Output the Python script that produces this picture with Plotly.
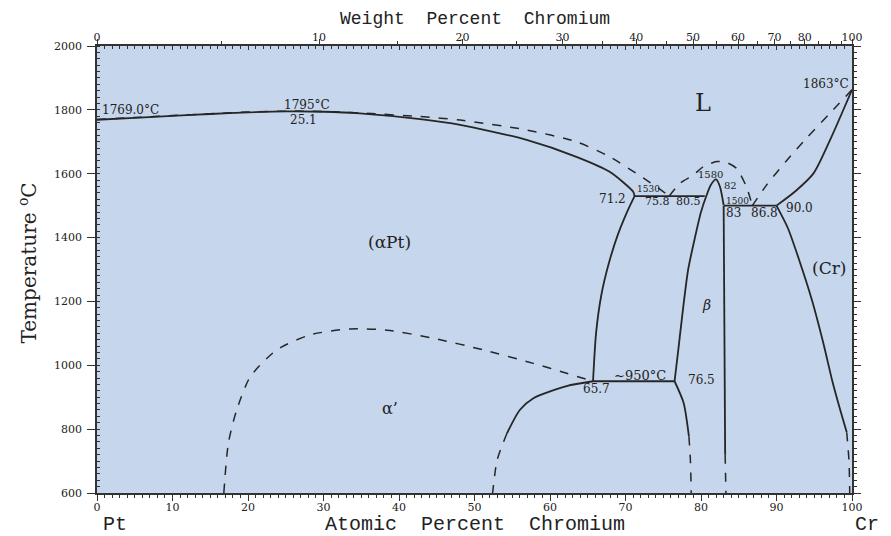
import plotly.graph_objects as go

# ---------------- data (atomic % Cr, temperature °C) ----------------
# Pt-side solidus (solid) and liquidus (dashed)
sol_pt_x = [0, 5, 10, 15, 20, 25.1, 30, 34.8, 42.8, 48.1, 56.9, 63.5, 67.9, 71.0, 71.2]
sol_pt_t = [1769, 1775, 1781, 1787, 1792, 1795, 1794, 1789, 1771, 1753, 1706, 1653, 1606, 1544, 1530]
liq_pt_x = [0, 5, 10, 15, 20, 25.1, 30, 35, 42.8, 48.1, 56.9, 63.5, 67.9, 72.4, 75.0, 75.8]
liq_pt_t = [1770, 1776, 1782, 1788, 1793, 1796, 1795, 1790, 1779, 1768, 1737, 1700, 1653, 1586, 1544, 1530]

# (alphaPt) solvus
apt_solvus_x = [65.7, 66.1, 66.8, 67.8, 69.0, 70.2, 71.2]
apt_solvus_t = [950, 1100, 1220, 1320, 1410, 1480, 1530]

# beta phase
beta_up_x = [76.5, 77.0, 77.6, 78.3, 79.2, 80.0, 80.7, 81.3, 82.0, 82.5, 83.0]
beta_up_t = [950, 1050, 1173, 1300, 1400, 1480, 1530, 1565, 1582, 1560, 1502]
beta_low_x = [76.5, 77.7, 78.4]
beta_low_t = [950, 882, 777]
beta_low_dash_x = [78.4, 78.6, 78.7]
beta_low_dash_t = [777, 700, 600]
beta_right_x = [83.0, 83.1, 83.2]
beta_right_t = [1500, 1100, 720]
beta_right_dash_x = [83.2, 83.3]
beta_right_dash_t = [720, 600]

# invariant lines
eut1_x = [71.2, 80.5]
eut1_t = [1530, 1530]
eut2_x = [83.0, 90.0]
eut2_t = [1500, 1500]
perit_x = [65.7, 76.5]
perit_t = [950, 950]

# (Cr) side
cr_sol_x = [90.0, 92.5, 94.9, 97.1, 100]
cr_sol_t = [1500, 1545, 1601, 1706, 1863]
cr_solvus_x = [90.0, 91.5, 93.0, 94.7, 96.2, 97.4, 98.5, 99.3]
cr_solvus_t = [1500, 1430, 1330, 1204, 1070, 950, 855, 790]
cr_solvus_dash_x = [99.3, 99.6, 99.7]
cr_solvus_dash_t = [790, 700, 600]
cr_liq_x = [86.8, 88.7, 91.3, 94.0, 97.1, 100]
cr_liq_t = [1500, 1565, 1640, 1712, 1790, 1863]

# liquidus dome over beta
dome_x = [75.8, 77.2, 79.0, 80.3, 82.1, 83.4, 84.7, 86.0, 86.8]
dome_t = [1530, 1570, 1596, 1622, 1638, 1635, 1617, 1560, 1500]

# alpha' ordering dome
aprime_x = [16.8, 17.4, 18.5, 20.3, 23.8, 28.2, 33.5, 38.4, 44.5, 51.2, 57.8, 62.2, 65.7]
aprime_t = [600, 756, 860, 964, 1048, 1095, 1114, 1110, 1085, 1048, 1006, 975, 950]
aprime_low_x = [65.7, 62.2, 57.8, 56.0, 54.3]
aprime_low_t = [950, 935, 897, 860, 787]
aprime_low_dash_x = [54.3, 53.0, 52.4]
aprime_low_dash_t = [787, 703, 600]

# axis ticks
at_ticks = [0, 10, 20, 30, 40, 50, 60, 70, 80, 90, 100]
t_ticks = [600, 800, 1000, 1200, 1400, 1600, 1800, 2000]
wt_ticks = [0, 10, 20, 30, 40, 50, 60, 70, 80, 100]
wt_labels = ["0", "10", "20", "30", "40", "50", "60", "70", "80", "100"]
wt_minor = [5, 15, 25, 35, 45, 55, 65, 75, 85, 90, 95]
M_CR, M_PT = 52.00, 195.08

# labels: (text, x, T, size, style)
labels = [
    ("L", 80.3, 1822, 24, "normal"),
    ("(αPt)", 38.8, 1386, 17, "normal"),
    ("(Cr)", 97.0, 1305, 17, "normal"),
    ("β", 80.7, 1189, 14, "italic"),
    ("α’", 38.8, 866, 16, "normal"),
    ("~950°C", 71.9, 968, 13, "normal"),
    ("65.7", 66.2, 925, 12, "normal"),
    ("76.5", 80.0, 954, 12, "normal"),
    ("71.2", 68.3, 1521, 12, "normal"),
    ("1530", 73.0, 1551, 9, "normal"),
    ("75.8", 74.3, 1514, 11, "normal"),
    ("80.5", 78.4, 1514, 11, "normal"),
    ("1580", 81.3, 1598, 10, "normal"),
    ("82", 83.9, 1562, 10, "normal"),
    ("1500", 84.8, 1514, 9, "normal"),
    ("83", 84.3, 1478, 12, "normal"),
    ("86.8", 88.4, 1478, 12, "normal"),
    ("90.0", 93.0, 1492, 12, "normal"),
    ("1863°C", 96.6, 1882, 12, "normal"),
    ("1769.0°C", 4.4, 1801, 12, "normal"),
    ("1795°C", 27.8, 1815, 12, "normal"),
    ("25.1", 27.3, 1767, 12, "normal"),
]

# ---------------- figure ----------------
LINE = "#262626"
SERIF = "DejaVu Serif"
MONO = "Liberation Mono"

fig = go.Figure()


def add(xs, ts, dashed=False, spline=True):
    fig.add_trace(go.Scatter(
        x=xs, y=ts, mode="lines", showlegend=False, hoverinfo="skip",
        line=dict(color=LINE, width=1.5 if dashed else 1.8,
                  dash="dash" if dashed else "solid",
                  shape="spline" if spline else "linear", smoothing=0.7),
    ))


add(sol_pt_x, sol_pt_t)
add(liq_pt_x, liq_pt_t, dashed=True)
add(apt_solvus_x, apt_solvus_t)
add(beta_up_x, beta_up_t)
add(beta_low_x, beta_low_t)
add(beta_low_dash_x, beta_low_dash_t, dashed=True)
add(beta_right_x, beta_right_t, spline=False)
add(beta_right_dash_x, beta_right_dash_t, dashed=True, spline=False)
add(eut1_x, eut1_t, spline=False)
add(eut2_x, eut2_t, spline=False)
add(perit_x, perit_t, spline=False)
add(cr_sol_x, cr_sol_t)
add(cr_solvus_x, cr_solvus_t)
add(cr_solvus_dash_x, cr_solvus_dash_t, dashed=True)
add(cr_liq_x, cr_liq_t, dashed=True)
add(dome_x, dome_t, dashed=True)
add(aprime_x, aprime_t, dashed=True)
add(aprime_low_x, aprime_low_t)
add(aprime_low_dash_x, aprime_low_dash_t, dashed=True)

# invisible traces to anchor the extra axes
for ax in [dict(xaxis="x2"), dict(xaxis="x3"), dict(yaxis="y2")]:
    fig.add_trace(go.Scatter(x=[0, 100], y=[600, 600], mode="lines",
                             line=dict(width=0), showlegend=False, hoverinfo="skip", **ax))


def at_from_wt(w):
    a = w / M_CR
    b = (100 - w) / M_PT
    return 100 * a / (a + b)


wt_pos = [at_from_wt(w) for w in wt_ticks]
wt_minor_pos = [at_from_wt(w) for w in wt_minor]

tickfont = dict(family=SERIF, size=11, color="#222")

fig.update_layout(
    width=883, height=528,
    margin=dict(l=89, r=39, t=38, b=43),
    paper_bgcolor="white",
    plot_bgcolor="#c6d6ec",
    xaxis=dict(range=[0, 100], tickvals=at_ticks, ticks="outside", ticklen=6,
               tickwidth=1.2, tickcolor="#333", showgrid=False, zeroline=False,
               showline=True, linecolor="#333", linewidth=1.5, automargin=False,
               tickfont=tickfont, ticklabelstandoff=-3,
               minor=dict(dtick=1, ticks="outside", ticklen=3, tickcolor="#333", showgrid=False)),
    xaxis2=dict(range=[0, 100], overlaying="x", side="top", tickmode="array",
                tickvals=wt_pos, ticktext=wt_labels, ticks="outside", ticklen=5,
                tickwidth=1.2, tickcolor="#333", showgrid=False, zeroline=False,
                showline=True, linecolor="#333", linewidth=1.5, tickfont=tickfont,
                automargin=False, ticklabelstandoff=-6,
                minor=dict(tickmode="array", tickvals=wt_minor_pos, ticks="outside",
                           ticklen=3, tickcolor="#333", showgrid=False)),
    xaxis3=dict(range=[0, 100], overlaying="x", side="top", tickvals=at_ticks,
                ticks="inside", ticklen=4, tickcolor="#333", showticklabels=False,
                showgrid=False, zeroline=False, showline=False, automargin=False,
                minor=dict(dtick=1, ticks="inside", ticklen=2.5, tickcolor="#333", showgrid=False)),
    yaxis=dict(range=[600, 2000], tickvals=t_ticks, ticks="outside", ticklen=8,
               tickwidth=1.2, tickcolor="#333", showgrid=False, zeroline=False,
               showline=True, linecolor="#333", linewidth=1.5, tickfont=tickfont,
               automargin=False, ticklabelstandoff=3,
               minor=dict(dtick=20, ticks="inside", ticklen=3, tickcolor="#333", showgrid=False)),
    yaxis2=dict(range=[600, 2000], overlaying="y", side="right", tickvals=t_ticks,
                ticks="outside", ticklen=7, tickcolor="#333", showticklabels=False,
                showgrid=False, zeroline=False, showline=True, linecolor="#333", linewidth=1.5,
                automargin=False,
                minor=dict(dtick=20, ticks="outside", ticklen=3, tickcolor="#333", showgrid=False)),
)

ann = []
for text, x, t, size, style in labels:
    ann.append(dict(x=x, y=t, xref="x", yref="y", text=text, showarrow=False,
                    font=dict(family=SERIF, size=size, color="#222", style=style)))

TITLE_FONT = dict(family=MONO, size=20, color="#222")
SP = "\u00a0 "
# axis titles and end-member labels
ann += [
    dict(x=0.5, y=1, xref="paper", yref="paper", xanchor="center", yanchor="middle",
         yshift=27, text="Weight" + SP + "Percent" + SP + "Chromium", showarrow=False,
         font=dict(family=MONO, size=18, color="#222")),
    dict(x=0.5, y=0, xref="paper", yref="paper", xanchor="center", yanchor="middle",
         yshift=-31, text="Atomic" + SP + "Percent" + SP + "Chromium", showarrow=False,
         font=TITLE_FONT),
    dict(x=0.0, y=0, xref="paper", yref="paper", xanchor="center", yanchor="middle",
         xshift=18, yshift=-31, text="Pt", showarrow=False, font=TITLE_FONT),
    dict(x=1.0, y=0, xref="paper", yref="paper", xanchor="center", yanchor="middle",
         xshift=15, yshift=-31, text="Cr", showarrow=False, font=TITLE_FONT),
    dict(x=0, y=0.5, xref="paper", yref="paper", xanchor="center", yanchor="middle",
         xshift=-70, yshift=6, text="Temperature <sup>o</sup>C",
         textangle=-90, showarrow=False, font=dict(family=SERIF, size=20, color="#222")),
]
fig.update_layout(annotations=ann)

fig.write_html("out.html")
